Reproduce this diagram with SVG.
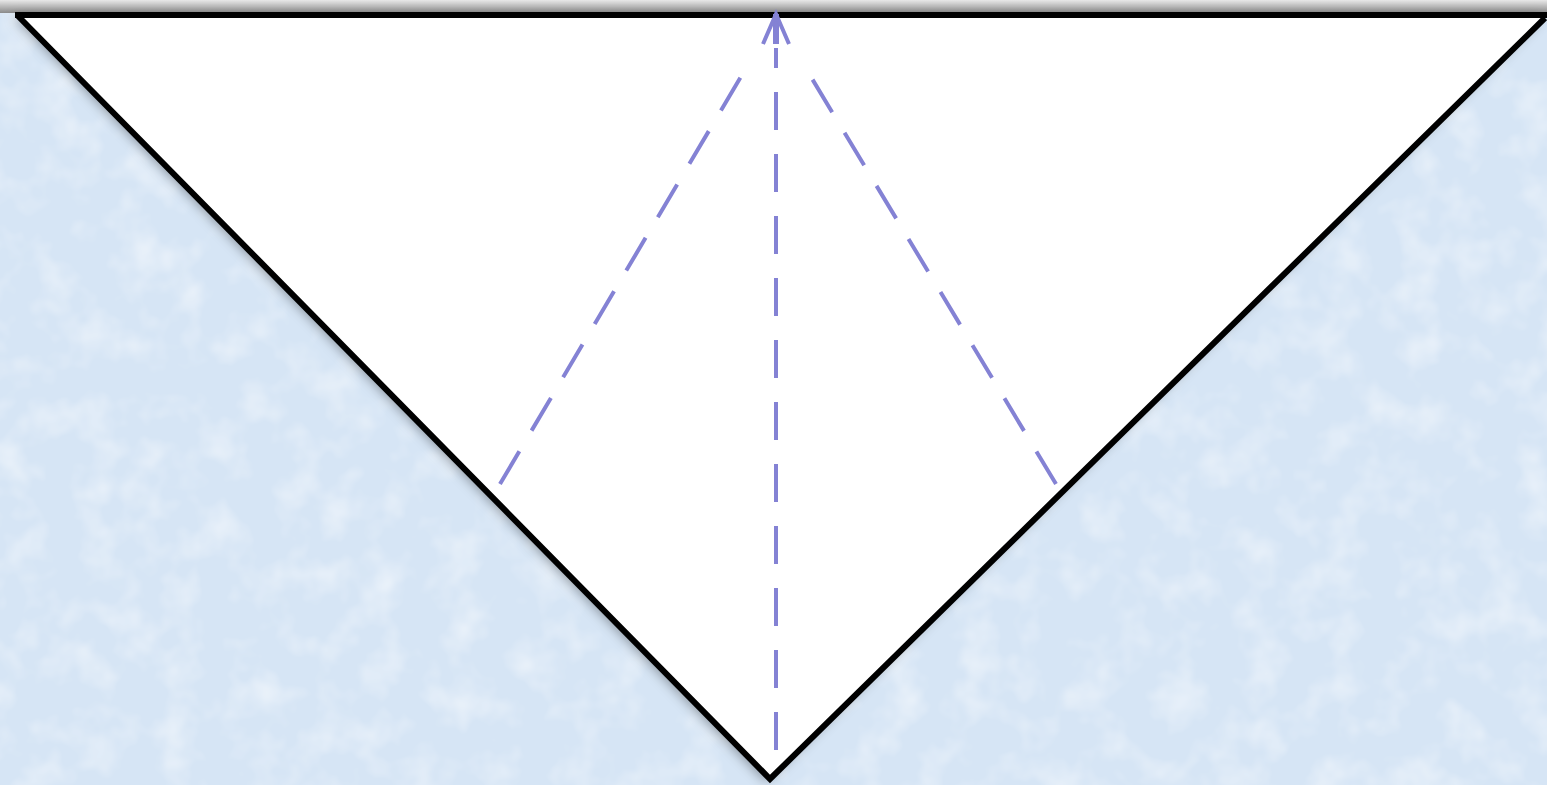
<svg xmlns="http://www.w3.org/2000/svg" width="1547" height="785" viewBox="0 0 1547 785">
  <defs>
    <linearGradient id="topbar" x1="0" y1="0" x2="0" y2="1">
      <stop offset="0" stop-color="#e8e8e8"/>
      <stop offset="1" stop-color="#8a8a8a"/>
    </linearGradient>
    <filter id="tex" x="0" y="0" width="100%" height="100%">
      <feTurbulence type="fractalNoise" baseFrequency="0.025" numOctaves="3" seed="4" result="n"/>
      <feColorMatrix in="n" type="matrix" values="0 0 0 0 1  0 0 0 0 1  0 0 0 0 1  0 0 0 -1.0 0.55" result="a"/>
      <feComposite in="a" in2="SourceGraphic" operator="in"/>
    </filter>
    <filter id="shadow" x="-5%" y="-5%" width="110%" height="110%">
      <feGaussianBlur in="SourceAlpha" stdDeviation="6"/>
      <feOffset dx="-4" dy="2" result="b"/>
      <feFlood flood-color="#000" flood-opacity="0.35"/>
      <feComposite in2="b" operator="in"/>
      <feMerge><feMergeNode/><feMergeNode in="SourceGraphic"/></feMerge>
    </filter>
  </defs>
  <style>
    .dash { stroke: #8482d4; stroke-width: 4; stroke-dasharray: 38 24; fill: none; }
    .edge { stroke: #000; stroke-width: 6; fill: none; stroke-linejoin: miter; }
  </style>
  <rect x="0" y="0" width="1547" height="785" fill="#d6e5f5"/>
  <rect x="0" y="0" width="1547" height="785" fill="#d6e5f5" filter="url(#tex)"/>
  <rect x="0" y="0" width="1547" height="13" fill="url(#topbar)"/>
  <g id="triangle">
    <polygon points="17,15 1547,15 770,780" fill="#ffffff" filter="url(#shadow)"/>
    <line x1="15" y1="15" x2="1547" y2="15" class="edge"/>
    <polyline points="18,16 770,779 1545,18" class="edge"/>
  </g>
  <g id="connectors">
    <line x1="776" y1="750" x2="776" y2="48" class="dash"/>
    <line x1="500" y1="484" x2="752" y2="58" class="dash"/>
    <line x1="1056" y1="484" x2="808" y2="72" class="dash"/>
    <path d="M776,44 L776,14" fill="none" stroke="#8482d4" stroke-width="6"/>
    <path d="M763,44 L776,14 L789,44" fill="none" stroke="#8482d4" stroke-width="4"/>
  </g>
</svg>
